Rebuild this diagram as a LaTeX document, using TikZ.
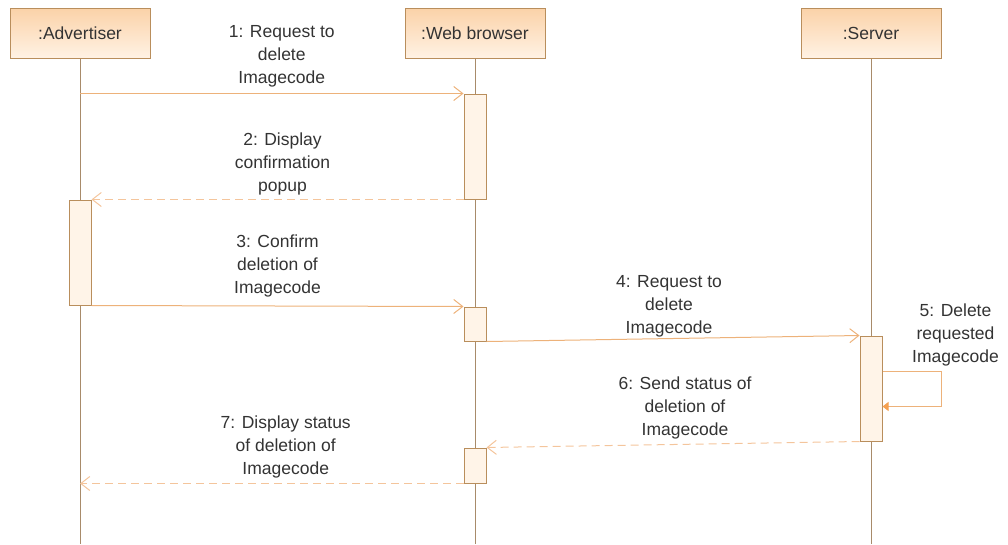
\documentclass[tikz,border=0pt]{standalone}
\usepackage{fontspec}
\setmainfont{Liberation Sans}
\usetikzlibrary{arrows.meta, positioning}

\definecolor{headtop}{HTML}{FBD2A8}
\definecolor{headbot}{HTML}{FFF2E4}
\definecolor{boxline}{HTML}{B98E5C}
\definecolor{lifeline}{HTML}{A88B6A}
\definecolor{actfill}{HTML}{FFF4E8}
\definecolor{msgline}{HTML}{EDB27A}
\definecolor{replyline}{HTML}{F4C59C}
\definecolor{selfhead}{HTML}{F5A050}
\definecolor{txt}{HTML}{333333}

\tikzset{
  head/.style={draw=boxline, line width=1pt, top color=headtop, bottom color=headbot,
    minimum width=140pt, minimum height=50pt, text=txt, font=\fontsize{17.5}{23}\selectfont},
  life/.style={draw=lifeline, line width=1pt},
  act/.style={draw=boxline, line width=1pt, fill=actfill, minimum width=22pt, inner sep=0pt},
  msg/.style={draw=msgline, line width=1pt, -{Straight Barb[length=9pt,width=14pt]}},
  reply/.style={msg, draw=replyline, dash pattern=on 8pt off 5pt},
  selfmsg/.style={draw=msgline, line width=1pt, -{Triangle[length=6pt,width=9pt,color=selfhead]}},
  lbl/.style={align=center, inner sep=1pt, text=txt, font=\fontsize{17.5}{23}\selectfont},
}

\begin{document}
\begin{tikzpicture}[x=1pt, y=-1pt, node distance=395pt, on grid]
  \useasboundingbox (0,0) rectangle (1008,544);

  \node[head] (adv) at (80,33) {:Advertiser};
  \node[head] (web) [right=of adv] {:Web browser};
  \node[head] (srv) [right=396pt of web] {:Server};

  \coordinate (advend) at (80,544);
  \coordinate (webend) at (475,544);
  \coordinate (srvend) at (871,544);
  \draw[life] (adv.south) -- (advend);
  \draw[life] (web.south) -- (webend);
  \draw[life] (srv.south) -- (srvend);

  \node[act, minimum height=105pt] (w1) at (475,146.5) {};
  \node[act, minimum height=105pt] (a1) at (80,252.5) {};
  \node[act, minimum height=34pt] (w2) at (475,324) {};
  \node[act, minimum height=105pt] (s1) at (871,388.5) {};
  \node[act, minimum height=35pt] (w3) at (475,465.5) {};

  \draw[msg] (adv.south |- w1.north) -- node[lbl, above=5pt, xshift=10pt] {1: Request to\\delete\\Imagecode} (w1.north west);
  \draw[reply] (w1.south west) -- node[lbl, above=3pt, xshift=5pt] {2: Display\\confirmation\\popup} (a1.north east);
  \draw[msg] (a1.south east) -- node[lbl, above=7pt, xshift=0pt] {3: Confirm\\deletion of\\Imagecode} (w2.north west);
  \draw[msg] (w2.south east) -- node[lbl, above=0pt, xshift=-4pt] {4: Request to\\delete\\Imagecode} (s1.north west);
  \draw[selfmsg] ([yshift=-36pt]s1.north east) -- ++(59,0)
    node[lbl, above=4pt, xshift=14pt] {5: Delete\\requested\\Imagecode}
    |- ([yshift=-71pt]s1.north east);
  \draw[reply] (s1.south west) -- node[lbl, above=4pt, xshift=12pt] {6: Send status of\\deletion of\\Imagecode} (w3.north east);
  \draw[reply] (w3.south west) -- node[lbl, above=4pt, xshift=14pt] {7: Display status\\of deletion of\\Imagecode} (adv.south |- w3.south);
\end{tikzpicture}
\end{document}
